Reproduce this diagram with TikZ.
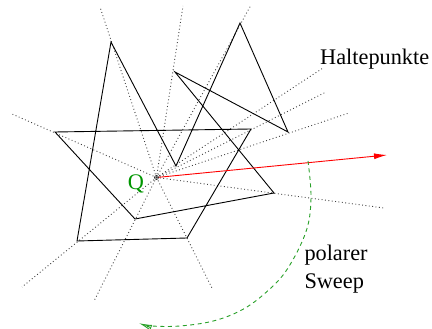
\documentclass[tikz,border=0pt]{standalone}
\usepackage{fontspec}
\setmainfont{Liberation Serif}
\usetikzlibrary{arrows.meta,calc}
\definecolor{qgreen}{RGB}{0,150,0}
\definecolor{sweepgreen}{RGB}{40,160,40}
\begin{document}
\begin{tikzpicture}[x=1pt,y=1pt,
  poly/.style={line width=0.9pt, line join=miter},
  ray/.style={line width=0.9pt, black!75, dash pattern=on 0.9pt off 2.5pt},
  lbl/.style={font=\fontsize{22.3}{26.6}\selectfont, inner sep=0pt, anchor=base west},
  qpt/.style={circle, draw, line width=0.5pt, minimum size=4pt, inner sep=0pt},
]
\useasboundingbox (0,0) rectangle (432,329);
% polygon vertices
\coordinate (A) at (111,287);
\coordinate (B) at (77,88);
\coordinate (C) at (187,91);
\coordinate (D) at (251,200);
\coordinate (E) at (55,197);
\coordinate (F) at (135,110);
\coordinate (G) at (274,136);
\coordinate (H) at (175,257);
\coordinate (I) at (288,197);
\coordinate (J) at (240,306);
\coordinate (K) at (176,163);
% ray ends
\coordinate (rA) at (100,322);
\coordinate (rH) at (183,323);
\coordinate (rJ) at (251,324);
\coordinate (rK) at (323,261);
\coordinate (rD) at (326,237);
\coordinate (rI) at (349,216);
\coordinate (rG) at (384,121);
\coordinate (rC) at (212,41);
\coordinate (rF) at (94,28);
\coordinate (rB) at (22,42);
\coordinate (rE) at (12,215);
\coordinate (Qc) at (156.5,151.5);
% rays
\foreach \r in {rA,rH,rJ,rK,rD,rI,rG,rC,rF,rB,rE}
  \draw[ray] (Qc) -- (\r);
% polygon
\draw[poly] (A) -- (B) -- (C) -- (D) -- (E) -- (F) -- (G) -- (H) -- (I) -- (J) -- (K) -- cycle;
% Q point
\node[qpt] (Q) at (Qc) {};
\node[lbl, text=qgreen] (Qlbl) at (127.7,139) {Q};
% red arrow
\coordinate (redend) at (387,174);
\draw[red, line width=0.9pt, -{Latex[length=13pt,width=6pt]}] (Q) -- (redend);
% sweep arc
\draw[sweepgreen, line width=0.9pt, dash pattern=on 4pt off 3.5pt,
  -{Latex[length=13pt,width=6pt,open=false]}]
  plot[smooth, tension=0.6] coordinates {(308,168) (311,131) (306,97.3) (286.7,59) (265,35.7) (241.7,19) (213.3,8) (180,3) (152,3) (139,5.8)};
% labels
\node[lbl] (halt) at (320,264.2) {Haltepunkte};
\node[lbl] (pol) at (304.3,68) {polarer};
\node[lbl] (swp) at (304.3,40.5) {Sweep};
\end{tikzpicture}
\end{document}
